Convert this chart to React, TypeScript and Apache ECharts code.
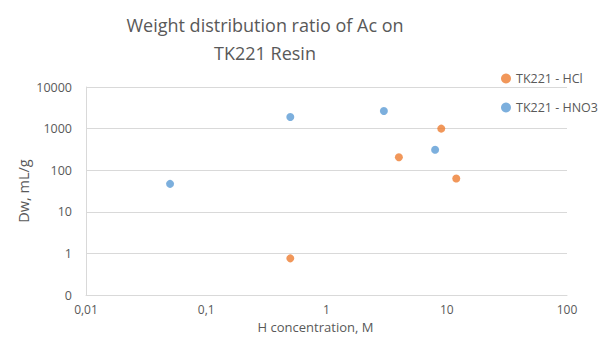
import React, { useEffect, useRef } from "react";
import * as echarts from "echarts";

const seriesNames = ["TK221 - HCl", "TK221 - HNO3"];
const hclX = [9, 4, 12, 0.5];
const hclY = [1000, 205, 63, 0.76];
const hno3X = [0.05, 0.5, 3, 8];
const hno3Y = [47, 1900, 2650, 310];
const xTicks = [0.01, 0.1, 1, 10, 100];
const yTicks = [0.1, 1, 10, 100, 1000, 10000];

const FONT = "'Open Sans', 'Noto Sans', sans-serif";
const GRAY = "#595959";

export default function App() {
  const ref = useRef<HTMLDivElement>(null);
  useEffect(() => {
    if (!ref.current) return;
    const chart = echarts.init(ref.current, undefined, { renderer: "svg" });
    chart.setOption({
      animation: false,
      backgroundColor: "#ffffff",
      title: {
        text: "Weight distribution ratio of Ac on\nTK221 Resin",
        left: 265,
        textAlign: "center",
        top: 11,
        padding: 0,
        textStyle: {
          fontFamily: FONT,
          fontSize: 18,
          fontWeight: "normal",
          color: GRAY,
          lineHeight: 28,
        },
      },
      legend: {
        orient: "vertical",
        left: 496,
        top: 67,
        itemGap: 16,
        itemWidth: 10,
        itemHeight: 10,
        icon: "circle",
        textStyle: { fontFamily: FONT, fontSize: 12.5, color: GRAY },
        data: seriesNames,
      },
      grid: { left: 86, right: 39, top: 87, bottom: 43, containLabel: false, outerBoundsMode: "none" },
      xAxis: {
        type: "log",
        logBase: 10,
        min: xTicks[0],
        max: xTicks[xTicks.length - 1],
        name: "H concentration, M",
        nameLocation: "middle",
        nameMoveOverlap: false,
        nameGap: 25,
        nameTextStyle: { fontFamily: FONT, fontSize: 13, color: GRAY, padding: [0, 22, 0, 0] },
        axisLine: { show: true, lineStyle: { color: "#d9d9d9" } },
        axisTick: { show: false },
        splitLine: { show: false },
        axisLabel: {
          fontFamily: FONT,
          fontSize: 12,
          color: GRAY,
          margin: 8,
          formatter: (v: number) => String(v).replace(".", ","),
        },
      },
      yAxis: {
        type: "log",
        logBase: 10,
        min: yTicks[0],
        max: yTicks[yTicks.length - 1],
        name: "Dw, mL/g",
        nameLocation: "middle",
        nameMoveOverlap: false,
        nameGap: 55,
        nameTextStyle: { fontFamily: FONT, fontSize: 14.5, color: GRAY },
        axisLine: { show: true, lineStyle: { color: "#d9d9d9" } },
        axisTick: { show: false },
        splitLine: { show: true, lineStyle: { color: "#d9d9d9" } },
        axisLabel: {
          fontFamily: FONT,
          fontSize: 12.5,
          color: GRAY,
          margin: 14,
          formatter: (v: number) => (v < 1 ? "0" : String(Math.round(v))),
        },
      },
      series: [
        {
          name: seriesNames[0],
          type: "scatter",
          symbolSize: 8,
          itemStyle: { color: "#ED7D31" },
          data: hclX.map((x, i) => [x, hclY[i]]),
        },
        {
          name: seriesNames[1],
          type: "scatter",
          symbolSize: 8,
          itemStyle: { color: "#5B9BD5" },
          data: hno3X.map((x, i) => [x, hno3Y[i]]),
        },
      ],
    });
    return () => chart.dispose();
  }, []);
  return <div ref={ref} style={{ width: 606, height: 338, position: "absolute", left: 0, top: 0 }} />;
}
